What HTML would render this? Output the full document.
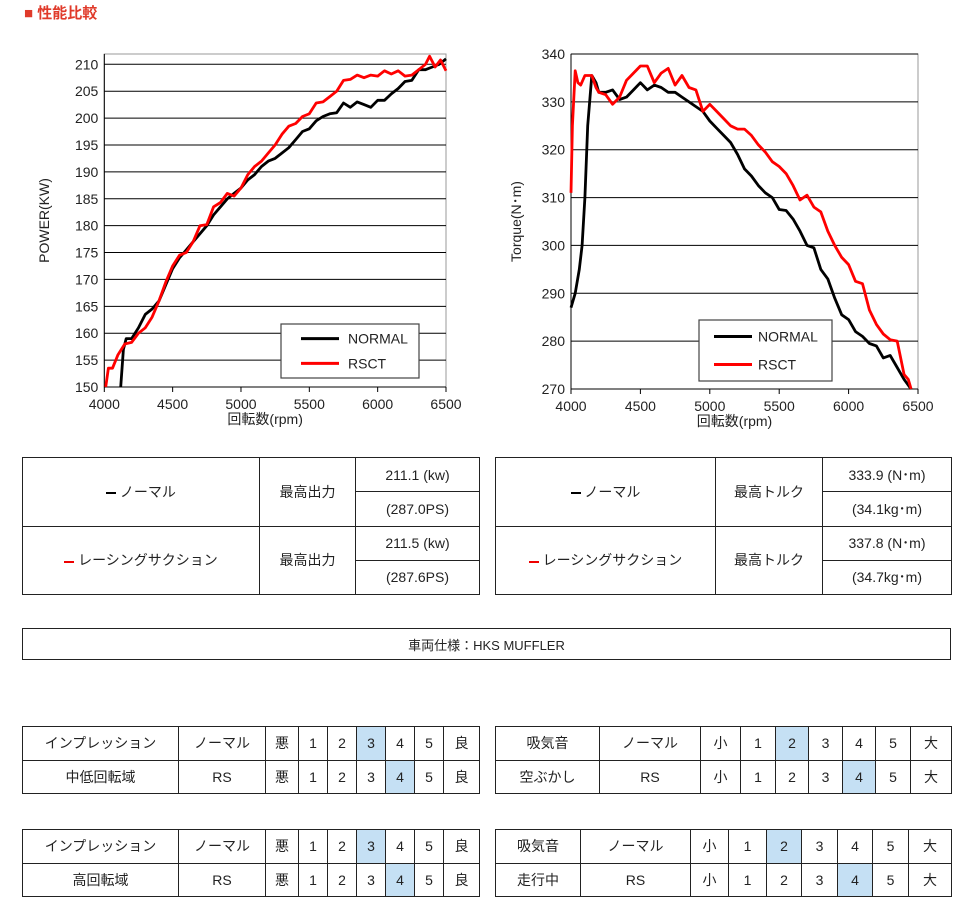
<!DOCTYPE html>
<html><head><meta charset="utf-8"><style>
body{margin:0;width:976px;height:910px;background:#fff;font-family:"Liberation Sans","Noto Sans CJK JP",sans-serif;position:relative;overflow:hidden}
.a{position:absolute}
table{position:absolute;border-collapse:collapse;font-size:14px;color:#222;table-layout:fixed}
td{border:1.5px solid #222;text-align:center;padding:0}
.h{background:#c5e0f4}
</style></head><body>
<div class="a" style="left:24px;top:2px;color:#e03a2a;font-weight:bold;font-size:15px">■ 性能比較</div>
<svg class="a" style="left:0;top:0" width="976" height="450" id="s" font-family="Liberation Sans, Noto Sans CJK JP, sans-serif"></svg>

<table style="left:22px;top:457px;width:457px;height:138px"><colgroup><col style="width:237px"><col style="width:96px"><col style="width:124px"></colgroup>
<tr><td rowspan="2"><span style="display:inline-block;width:10px;border-top:2px solid #000;vertical-align:middle"></span> ノーマル</td><td rowspan="2">最高出力</td><td>211.1 (kw)</td></tr><tr><td>(287.0PS)</td></tr>
<tr><td rowspan="2"><span style="display:inline-block;width:10px;border-top:2px solid #e00;vertical-align:middle"></span> レーシングサクション</td><td rowspan="2">最高出力</td><td>211.5 (kw)</td></tr><tr><td>(287.6PS)</td></tr></table>
<table style="left:495px;top:457px;width:456px;height:138px"><colgroup><col style="width:220px"><col style="width:107px"><col style="width:129px"></colgroup>
<tr><td rowspan="2"><span style="display:inline-block;width:10px;border-top:2px solid #000;vertical-align:middle"></span> ノーマル</td><td rowspan="2">最高トルク</td><td>333.9 (N･m)</td></tr><tr><td>(34.1kg･m)</td></tr>
<tr><td rowspan="2"><span style="display:inline-block;width:10px;border-top:2px solid #e00;vertical-align:middle"></span> レーシングサクション</td><td rowspan="2">最高トルク</td><td>337.8 (N･m)</td></tr><tr><td>(34.7kg･m)</td></tr></table>
<table style="left:22px;top:628px;width:929px;height:32px;font-size:13px"><tr><td>車両仕様：HKS MUFFLER</td></tr></table>

<table style="left:22px;top:726px;width:457px;height:68px"><colgroup><col style="width:156px"><col style="width:87px"><col style="width:33px"><col style="width:29px"><col style="width:29px"><col style="width:29px"><col style="width:29px"><col style="width:29px"><col style="width:36px"></colgroup>
<tr><td>インプレッション</td><td>ノーマル</td><td>悪</td><td>1</td><td>2</td><td class="h">3</td><td>4</td><td>5</td><td>良</td></tr>
<tr><td>中低回転域</td><td>RS</td><td>悪</td><td>1</td><td>2</td><td>3</td><td class="h">4</td><td>5</td><td>良</td></tr></table>
<table style="left:495px;top:726px;width:456px;height:68px"><colgroup><col style="width:104px"><col style="width:101px"><col style="width:40px"><col style="width:35px"><col style="width:33px"><col style="width:34px"><col style="width:33px"><col style="width:35px"><col style="width:41px"></colgroup>
<tr><td>吸気音</td><td>ノーマル</td><td>小</td><td>1</td><td class="h">2</td><td>3</td><td>4</td><td>5</td><td>大</td></tr>
<tr><td>空ぶかし</td><td>RS</td><td>小</td><td>1</td><td>2</td><td>3</td><td class="h">4</td><td>5</td><td>大</td></tr></table>
<table style="left:22px;top:829px;width:457px;height:68px"><colgroup><col style="width:156px"><col style="width:87px"><col style="width:33px"><col style="width:29px"><col style="width:29px"><col style="width:29px"><col style="width:29px"><col style="width:29px"><col style="width:36px"></colgroup>
<tr><td>インプレッション</td><td>ノーマル</td><td>悪</td><td>1</td><td>2</td><td class="h">3</td><td>4</td><td>5</td><td>良</td></tr>
<tr><td>高回転域</td><td>RS</td><td>悪</td><td>1</td><td>2</td><td>3</td><td class="h">4</td><td>5</td><td>良</td></tr></table>
<table style="left:495px;top:829px;width:456px;height:68px"><colgroup><col style="width:85px"><col style="width:110px"><col style="width:38px"><col style="width:38px"><col style="width:35px"><col style="width:36px"><col style="width:35px"><col style="width:36px"><col style="width:43px"></colgroup>
<tr><td>吸気音</td><td>ノーマル</td><td>小</td><td>1</td><td class="h">2</td><td>3</td><td>4</td><td>5</td><td>大</td></tr>
<tr><td>走行中</td><td>RS</td><td>小</td><td>1</td><td>2</td><td>3</td><td class="h">4</td><td>5</td><td>大</td></tr></table>

<script>
var s=document.getElementById('s'),h='';
function chart(o){
 var X=function(r){return o.x0+(r-4000)/2500*(o.x1-o.x0)},Y=function(v){return o.y1-(v-o.vmin)/(o.vmax-o.vmin)*(o.y1-o.y0)};
 h+='<rect x="'+o.x0+'" y="'+o.top+'" width="'+(o.x1-o.x0)+'" height="'+(o.y1-o.top)+'" fill="#fff" stroke="#999"/>';
 for(var v=o.vmin;v<=o.vmax;v+=o.step){var y=Y(v);h+='<line x1="'+o.x0+'" x2="'+o.x1+'" y1="'+y+'" y2="'+y+'" stroke="#000" stroke-width="1"/>';
  h+='<text x="'+(o.x0-6)+'" y="'+(y+5)+'" text-anchor="end" font-size="14" fill="#222">'+v+'</text>';}
 h+='<line x1="'+o.x0+'" x2="'+o.x0+'" y1="'+o.top+'" y2="'+o.y1+'" stroke="#000"/>';
 for(var r=4000;r<=6500;r+=500){var x=X(r);h+='<line x1="'+x+'" x2="'+x+'" y1="'+o.y1+'" y2="'+(o.y1+5)+'" stroke="#000"/><text x="'+x+'" y="'+(o.y1+22)+'" text-anchor="middle" font-size="14" fill="#222">'+r+'</text>';}
 h+='<text x="'+((o.x0+o.x1)/2-10)+'" y="'+(o.y1+37)+'" text-anchor="middle" font-size="14" fill="#222">回転数(rpm)</text>';
 h+='<text transform="translate('+o.lx+','+((o.top+o.y1)/2)+') rotate(-90)" text-anchor="middle" font-size="14" fill="#222">'+o.lab+'</text>';
 [[o.n,'#000'],[o.r,'#f00']].forEach(function(p){var d=p[0].map(function(q){return X(q[0]).toFixed(1)+','+Y(q[1]).toFixed(1)}).join(' ');
  h+='<polyline points="'+d+'" fill="none" stroke="'+p[1]+'" stroke-width="2.8" stroke-linejoin="round"/>';});
 var L=o.leg;h+='<rect x="'+L[0]+'" y="'+L[1]+'" width="'+L[2]+'" height="'+L[3]+'" fill="#fff" stroke="#444" stroke-width="1.2"/>';
 h+='<line x1="'+L[4]+'" x2="'+(L[4]+38)+'" y1="'+(L[1]+L[3]*0.27)+'" y2="'+(L[1]+L[3]*0.27)+'" stroke="#000" stroke-width="3"/><text x="'+(L[4]+L[5])+'" y="'+(L[1]+L[3]*0.27+5)+'" font-size="14" fill="#222">NORMAL</text>';
 h+='<line x1="'+L[4]+'" x2="'+(L[4]+38)+'" y1="'+(L[1]+L[3]*0.73)+'" y2="'+(L[1]+L[3]*0.73)+'" stroke="#f00" stroke-width="3"/><text x="'+(L[4]+L[5])+'" y="'+(L[1]+L[3]*0.73+5)+'" font-size="14" fill="#222">RSCT</text>';
}
chart({x0:104.3,x1:446,top:54,y0:64.3,y1:387,vmin:150,vmax:210,step:5,lab:'POWER(KW)',lx:49,leg:[281,324,138,54,301,47],
n:[[4120,150],[4140,157],[4160,159],[4180,159],[4200,159],[4250,161],[4300,163.5],[4350,164.5],[4400,166],[4450,169],[4500,172],[4550,174],[4600,175.5],[4650,177],[4700,178.5],[4750,180],[4800,182],[4850,183.5],[4900,185],[4950,186],[5000,187],[5050,188.5],[5100,189.5],[5150,191],[5200,192],[5250,192.5],[5300,193.5],[5350,194.5],[5400,196],[5450,197.5],[5500,198],[5550,199.5],[5600,200.3],[5650,200.8],[5700,201],[5750,202.8],[5800,202],[5850,203],[5900,202.5],[5950,202],[6000,203.3],[6050,203.3],[6100,204.5],[6150,205.5],[6200,206.8],[6250,207],[6300,209],[6350,209],[6400,209.5],[6450,210],[6500,211]],
r:[[4010,150],[4030,153.5],[4060,153.5],[4100,156],[4150,158],[4200,158.3],[4250,160],[4300,161],[4350,163],[4400,166],[4450,169.5],[4500,172.5],[4550,174.5],[4600,175],[4650,177],[4700,180],[4750,180.2],[4800,183.5],[4850,184.3],[4900,186],[4950,185.5],[5000,187],[5050,189.5],[5100,191],[5150,192],[5200,193.5],[5250,195],[5300,197],[5350,198.5],[5400,199],[5450,200.3],[5500,200.8],[5550,202.8],[5600,203],[5650,204],[5700,205],[5750,207],[5800,207.2],[5850,208],[5900,207.5],[5950,208],[6000,207.8],[6050,208.8],[6100,208.2],[6150,208.8],[6200,207.8],[6250,208],[6300,209],[6350,210],[6380,211.5],[6420,209.5],[6460,210.8],[6500,208.8]]});
chart({x0:571,x1:918,top:54,y0:54,y1:389,vmin:270,vmax:340,step:10,lab:'Torque(N･m)',lx:521,leg:[699,320,133,61,714,44],
n:[[4000,287],[4030,290],[4060,295],[4080,300],[4100,310],[4120,325],[4150,335.5],[4180,334],[4200,332],[4250,332],[4300,332.5],[4350,330.5],[4400,331],[4450,332.5],[4500,334],[4550,332.5],[4600,333.5],[4650,333],[4700,332],[4750,332],[4800,331],[4850,330],[4900,329],[4950,328],[5000,326],[5050,324.5],[5100,323],[5150,321.5],[5200,319],[5250,316],[5300,314.5],[5350,312.5],[5400,311],[5450,310],[5500,307.5],[5550,307.3],[5600,305.5],[5650,303],[5700,300],[5750,299.5],[5800,295],[5850,293],[5900,289],[5950,285.5],[6000,284.5],[6050,282],[6100,281],[6150,279.5],[6200,279],[6250,276.5],[6300,277],[6350,274.5],[6400,272],[6450,270]],
r:[[4000,311],[4010,325],[4030,336.5],[4050,334],[4070,333.5],[4100,335.5],[4150,335.5],[4180,333],[4200,332],[4250,331.5],[4300,329.5],[4350,331],[4400,334.5],[4450,336],[4500,337.5],[4550,337.5],[4600,334],[4650,336],[4700,337],[4750,333.5],[4800,335.5],[4850,333],[4900,332.5],[4950,328],[5000,329.5],[5050,328],[5100,326.5],[5150,325],[5200,324.3],[5250,324.3],[5300,323],[5350,321],[5400,319.5],[5450,317.5],[5500,316.5],[5550,315],[5600,312.5],[5650,309.5],[5700,310.5],[5750,308],[5800,307],[5850,303],[5900,300],[5950,297.5],[6000,296],[6050,292.5],[6100,292],[6150,286.5],[6200,283.5],[6250,281.5],[6300,280.3],[6350,280],[6400,273],[6430,272],[6450,270]]});
s.innerHTML=h;
</script>
</body></html>
